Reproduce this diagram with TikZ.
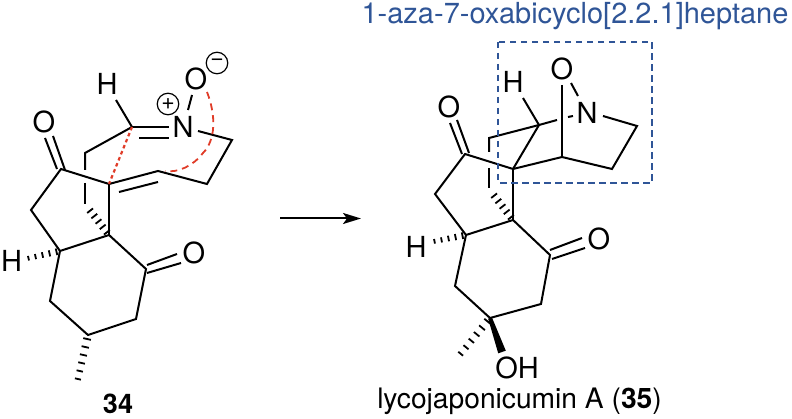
\documentclass[tikz,border=0pt]{standalone}
\usepackage{fontspec}
\setmainfont{TeX Gyre Heros}
\usetikzlibrary{calc,arrows.meta}
\definecolor{boxblue}{HTML}{2F5597}
\definecolor{mechred}{HTML}{E03C28}
\tikzset{
  atom/.style={inner sep=0pt,font=\fontsize{29}{29}\selectfont},
  caption/.style={inner sep=0pt,anchor=base,font=\fontsize{28.2}{28}\selectfont},
  chg/.style={draw,circle,minimum size=21.5pt,inner sep=0pt,line width=1.2pt,font=\fontsize{23}{23}\selectfont},
  bond/.style={line width=2pt,line join=miter,line cap=butt},
  redarrow/.style={mechred,line width=1.8pt,dash pattern=on 7pt off 5pt},
  reddot/.style={mechred,line width=2.2pt,dash pattern=on 3.5pt off 3pt},
  hashln/.style={line width=1.8pt},
}
\newcommand{\hashbond}[5]{% from, to, count, half width near, half width far
  \foreach \k in {0,...,#3}{
    \pgfmathsetmacro{\t}{(\k+0.5)/(#3+1)}
    \pgfmathsetmacro{\w}{#4+(#5-#4)*\t}
    \draw[hashln] ($(#1)!\t!(#2)!\w pt!90:(#2)$) -- ($(#1)!\t!(#2)!\w pt!-90:(#2)$);
  }}
\begin{document}
\begin{tikzpicture}[x=1pt,y=-1pt]
\useasboundingbox (0,0) rectangle (792,419);
% ---- compound 34
\coordinate (a1) at (132,127);
\coordinate (a2) at (85,153);
\coordinate (a2b) at (85,170);
\coordinate (a2c) at (85,183);
\coordinate (a2d) at (85,204);
\coordinate (a3) at (109,235);
\coordinate (a4) at (109,184);
\coordinate (a5) at (61,169);
\coordinate (a6) at (31,210);
\coordinate (a7) at (60,251);
\coordinate (a8) at (146,269);
\coordinate (a9) at (136,319);
\coordinate (a10) at (88,335);
\coordinate (a11) at (50,301);
\coordinate (a12) at (158,171);
\coordinate (a13) at (207,184);
\coordinate (a14) at (232,140);
\coordinate (am) at (77,383);
\coordinate (ah) at (25,259);
\coordinate (ahs) at (88,208);
\node[atom] (aH) at (107,84) {H};
\node[atom] (aN) at (183,127) {N};
\node[atom] (aO) at (196,79) {O};
\node[atom] (aO1) at (44,122) {O};
\node[atom] (aO2) at (194,253) {O};
\node[atom] (aH2) at (11.5,261) {H};
\node[chg] (aplus) at (168,104) {+};
\node[chg] (aminus) at (217,63) {\raisebox{1pt}{−}};
\node[caption,font=\bfseries\fontsize{27}{27}\selectfont] (l34) at (118,413) {34};
\draw[bond] (116,100) -- (a1);
\draw[bond] (a1) -- (169,127);
\draw[bond] (139,138) -- (169,138);
\draw[bond] (188,110) -- (192,95);
\draw[bond] (198,131) -- (a14) -- (a13) -- (a12) -- (a4) -- (a5) -- (a6) -- (a7) -- (a11) -- (a10) -- (a9) -- (a8) -- (a3) -- (a7);
\draw[bond] (a4) -- (a3);
\draw[bond] (119,192) -- (158,182);
\draw[bond] (a1) -- (a2) -- (a2b);
\draw[bond] (a2c) -- (a2d);
\draw[bond] (65,170) -- (53,136);
\draw[bond] (57,169) -- (45,138);
\draw[bond] (147,265) -- (177,254);
\draw[bond] (147,273) -- (181,263);
\hashbond{a3}{ahs}{4}{3.7}{3.7}
\hashbond{a7}{ah}{4}{3.5}{2.2}
\hashbond{a10}{am}{5}{4}{3}
\draw[reddot] (a1) -- (a4);
\draw[redarrow] (207,92) .. controls (216,115) and (216,140) .. (203,153) .. controls (193,166) and (178,173) .. (165,171);
% ---- arrow
\coordinate (arrS) at (280,218.5);
\coordinate (arrE) at (361,218.5);
\draw[line width=2pt,-{Stealth[length=18pt,width=11pt,inset=4pt]}] (arrS) -- (arrE);
% ---- compound 35
\coordinate (b1) at (539,125);
\coordinate (b2) at (489,138);
\coordinate (b2b) at (489,152);
\coordinate (b2c) at (489,168);
\coordinate (b2d) at (489,188);
\coordinate (b3) at (513,220);
\coordinate (b4) at (513,169);
\coordinate (b5) at (465,154);
\coordinate (b6) at (435,194);
\coordinate (b7) at (466,235);
\coordinate (b8) at (550,255);
\coordinate (b9) at (541,304);
\coordinate (b10) at (490,318);
\coordinate (b11) at (455,286);
\coordinate (b12) at (562,157);
\coordinate (b13) at (612,169);
\coordinate (b14) at (637,126);
\coordinate (bm) at (458,357);
\coordinate (bh) at (431,242);
\coordinate (bhs) at (492,193);
\coordinate (bw) at (502,352);
\node[atom] (bH) at (513,82) {H};
\node[atom] (bN) at (587,113) {N};
\node[atom] (bO) at (562,69) {O};
\node[atom] (bO1) at (449,107) {O};
\node[atom] (bO2) at (599,239) {O};
\node[atom] (bH2) at (416,247) {H};
\node[atom] (bOH) at (517,368) {OH};
\node[caption] (l35) at (519.5,408) {lycojaponicumin A (\textbf{35})};
\node[caption,text=boxblue,font=\fontsize{29}{29}\selectfont] (lname) at (575,23.5) {1-aza-7-oxabicyclo[2.2.1]heptane};
\draw[bond] (523,98) -- (b1);
\draw[bond] (b1) -- (557,120);
\draw[bond] (568,117) -- (573,116);
\draw[bond] (571,83) -- (578,96);
\draw[bond] (562,85) -- (b12);
\draw[bond] (603,116) -- (b14) -- (b13) -- (b12) -- (b4) -- (b5) -- (b6) -- (b7) -- (b11) -- (b10) -- (b9) -- (b8) -- (b3) -- (b7);
\draw[bond] (b4) -- (b3);
\draw[bond] (b1) -- (b4);
\draw[bond] (b1) -- (b2) -- (b2b);
\draw[bond] (b2c) -- (b2d);
\draw[bond] (469,153) -- (457,120);
\draw[bond] (462,154) -- (450,123);
\draw[bond] (550,250) -- (582,238);
\draw[bond] (552,259) -- (585,248);
\fill ($(b10)!2pt!90:(bw)$) -- ($(b10)!2pt!-90:(bw)$) -- ($(bw)!4pt!90:(b10)$) -- ($(bw)!4pt!-90:(b10)$) -- cycle;
\hashbond{b3}{bhs}{4}{3.7}{3.7}
\hashbond{b7}{bh}{4}{3.5}{2.2}
\hashbond{b10}{bm}{5}{4}{3}
\draw[boxblue,line width=1.4pt,dash pattern=on 6.5pt off 4.5pt] (498,42) rectangle (652,183);
\end{tikzpicture}
\end{document}
